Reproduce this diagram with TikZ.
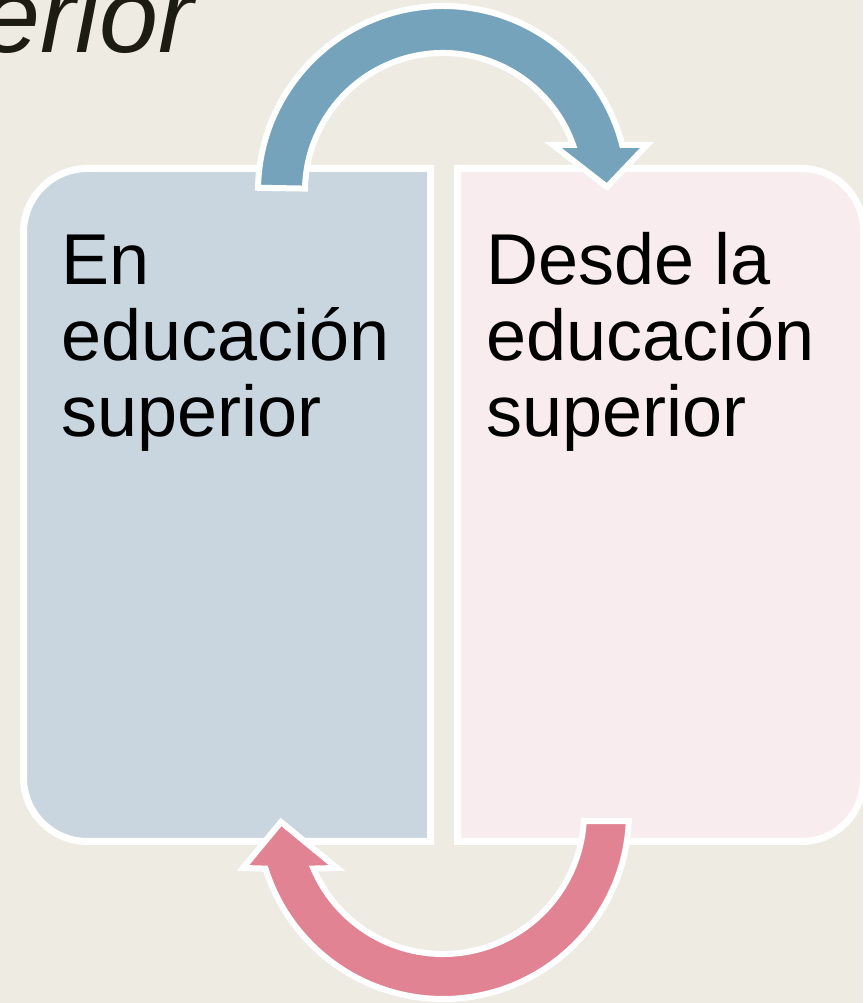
\documentclass[tikz,border=0pt]{standalone}
\usepackage{fontspec}
\setmainfont{Liberation Sans}
\usetikzlibrary{calc}

\definecolor{paper}{RGB}{238,235,227}
\definecolor{boxblue}{RGB}{202,214,223}
\definecolor{boxpink}{RGB}{249,236,238}
\definecolor{arrowblue}{RGB}{117,163,188}
\definecolor{arrowpink}{RGB}{225,131,146}
\definecolor{titleink}{RGB}{28,28,18}

\tikzset{
  panel/.style={draw=white, line width=7pt},
  turnarrow/.style={draw=white, line width=6pt, line join=miter},
  paneltext/.style={anchor=base west, inner sep=0pt, align=left,
    font=\fontsize{72}{76}\selectfont}
}

\begin{document}
\begin{tikzpicture}[x=1pt, y=1pt]
\fill[paper] (0,0) rectangle (863,1003);
\useasboundingbox (0,0) rectangle (863,1003);

\node[anchor=base east, inner sep=0pt, text=titleink,
  font=\fontsize{106}{110}\selectfont\itshape] (title) at (194,950) {erior};

% panels
\draw[panel, fill=boxblue] (430.5,834.5) -- (87.5,834.5)
  arc[start angle=90, end angle=180, radius=64] -- (23.5,225.5)
  arc[start angle=180, end angle=270, radius=64] -- (430.5,161.5) -- cycle;
\draw[panel, fill=boxpink] (457.5,834.5) -- (801.5,834.5)
  arc[start angle=90, end angle=0, radius=62] -- (863.5,223.5)
  arc[start angle=0, end angle=-90, radius=62] -- (457.5,161.5) -- cycle;

\node[paneltext] (en) at (61,566) {En\\educación\\superior};
\node[paneltext] (desde) at (486,566) {Desde la\\educación\\superior};

% arrows
\coordinate (topc) at (443,812);
\coordinate (botc) at (443,190);

\draw[turnarrow, fill=arrowblue] ($(topc)+(179:185)$)
  arc[start angle=179, end angle=14.4, radius=185]
  -- (647,858) -- (607,816) -- (553,858)
  -- ($(topc)+(19.5:138)$) arc[start angle=19.5, end angle=179, radius=138] -- cycle;

\draw[turnarrow, fill=arrowpink] ($(botc)+(-2.5:186)$)
  arc[start angle=-2.5, end angle=-162.6, radius=186]
  -- (243,135) -- (281,181) -- (337,135)
  -- ($(botc)+(-156.8:141)$) arc[start angle=-156.8, end angle=-3.3, radius=141] -- cycle;
\end{tikzpicture}
\end{document}
